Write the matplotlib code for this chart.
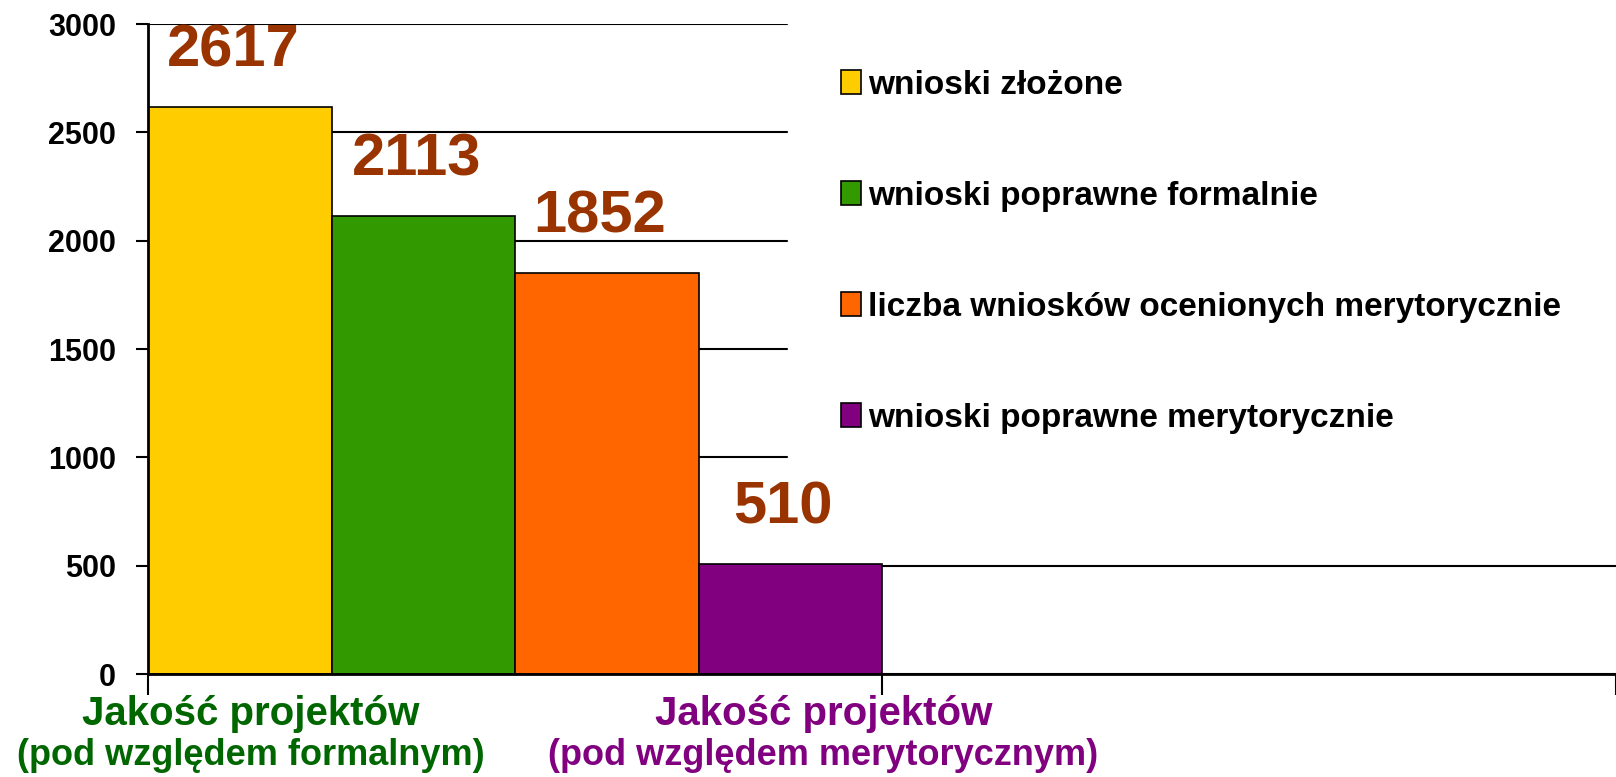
import matplotlib
matplotlib.use('Agg')
import matplotlib.pyplot as plt
import numpy as np

# data
series = ['wnioski złożone', 'wnioski poprawne formalnie',
          'liczba wniosków ocenionych merytorycznie', 'wnioski poprawne merytorycznie']
values = [2617, 2113, 1852, 510]
colors = ['#FFCC00', '#339900', '#FF6600', '#800080']
yticks = [0, 500, 1000, 1500, 2000, 2500, 3000]
cat_titles = ['Jakość projektów', 'Jakość projektów']
cat_subtitles = ['(pod względem formalnym)', '(pod względem merytorycznym)']
cat_colors = ['#006600', '#800080']

plt.rcParams['font.family'] = ['Liberation Sans', 'DejaVu Sans']
plt.rcParams['font.weight'] = 'bold'

fig = plt.figure(figsize=(16.16, 7.77), dpi=100)
ax = fig.add_axes([148 / 1616, 1 - 674 / 777, 1 - 148 / 1616, 650 / 777])

width = 0.25
xs = 0.125 + width * np.arange(len(values))
bars = ax.bar(xs, values, width=width, color=colors, edgecolor='black',
              linewidth=1.2, label=series, zorder=3)

for x, v in zip(xs, values):
    ax.annotate(str(v), (x, v), xytext=(-5, 29), textcoords='offset points',
                ha='center', va='baseline', fontsize=43, fontweight='bold',
                color='#993300', zorder=5)

ax.set_xlim(0, 1.978)
ax.set_ylim(0, 3000)
ax.set_yticks(yticks)
ax.set_yticklabels([str(t) for t in yticks], fontsize=22, fontweight='bold')
ax.set_xticks([0, 1, 2])
ax.set_xticklabels(['', '', ''])
ax.tick_params(axis='y', length=9, width=1.5, direction='out', pad=14)
ax.tick_params(axis='x', length=15, width=1.5, direction='out')

ax.yaxis.grid(True, color='black', linewidth=1.5, zorder=1)
ax.set_axisbelow(True)
for side in ['top', 'right']:
    ax.spines[side].set_visible(False)
for side in ['left', 'bottom']:
    ax.spines[side].set_linewidth(2)
    ax.spines[side].set_zorder(4)

x0 = (788 - 148) / 1468
leg = ax.legend(loc='upper left', bbox_to_anchor=(x0, 1.012, 1.02 - x0, 0),
                mode='expand', fontsize=24, frameon=True, facecolor='white',
                edgecolor='white', framealpha=1, fancybox=False, borderpad=1.6,
                labelspacing=2.4, handlelength=0.6, handleheight=0.7,
                handletextpad=0.2, borderaxespad=0)
leg.set_zorder(4)

title_x = [0.14, 0.92]
for i in range(len(cat_titles)):
    ax.text(title_x[i], -0.061, cat_titles[i], transform=ax.get_xaxis_transform(),
            ha='center', va='center', fontsize=29, fontweight='bold',
            color=cat_colors[i])
    ax.text(title_x[i], -0.126, cat_subtitles[i], transform=ax.get_xaxis_transform(),
            ha='center', va='center', fontsize=26, fontweight='bold',
            color=cat_colors[i])

fig.savefig('out.png', dpi=100)
